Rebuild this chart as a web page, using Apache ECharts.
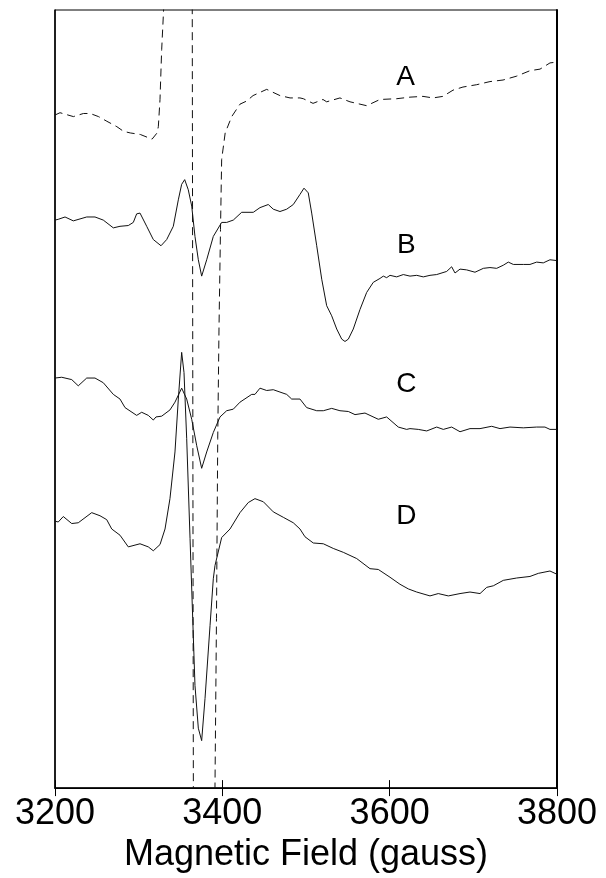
<!DOCTYPE html>
<html>
<head>
<meta charset="utf-8">
<script src="https://cdn.jsdelivr.net/npm/echarts@6/dist/echarts.min.js"></script>
<style>
  html, body { margin: 0; padding: 0; background: #fff; }
  #chart { width: 606px; height: 878px; }
</style>
</head>
<body>
<div id="chart"></div>
<script>
// EPR spectra A–D: field (gauss) and derivative intensity (arbitrary units, stacked offsets)
const fieldA = [3200, 3206, 3222, 3234, 3242, 3252, 3262, 3274, 3282, 3290, 3302, 3316, 3317.5, 3322, 3323.5, 3325.5, 3327.5, 3329.4, 3330.3,
  3332.7, 3343.4, 3355.4, 3364.0, 3365.4, 3373.3, 3382.9, 3390.0, 3391.2, 3393.0, 3394.5, 3396.0, 3397.8, 3399.2, 3403.4, 3411.2,
  3421.1, 3429.1, 3436.7, 3453.0, 3468.9, 3480.9, 3492.8, 3496.8, 3508.4, 3520.3, 3524.7, 3540.6, 3552.6, 3572.5, 3588.4, 3608.4,
  3624.3, 3639.8, 3651.8, 3663.7, 3675.7, 3687.6, 3704.0, 3719.9, 3735.5, 3751.8, 3767.7, 3779.7, 3791.6, 3799.6];
const intensityA = [86.5, 86.8, 86.3, 86.7, 86.7, 86.3, 85.7, 85.0, 84.4, 84.2, 84.0, 83.4, 83.2, 84.2, 85.0, 88.5, 94.9, 99.1, 101.3,
  108.7, 116.7, 111.5, 103.8, -2.6, -14.1, -11.5, -3.2, 0.0, 21.8, 44.9, 59.0, 71.8, 80.8, 84.2, 86.3,
  87.9, 88.3, 89.0, 89.8, 89.0, 88.7, 88.7, 88.6, 88.0, 88.5, 88.2, 88.7, 88.2, 87.7, 88.5, 88.6,
  88.8, 88.9, 88.7, 88.9, 89.7, 90.1, 90.4, 90.8, 91.0, 91.5, 92.2, 92.4, 93.2, 93.3];

const fieldB = [3200, 3203.9, 3212.0, 3221.9, 3237.9, 3247.8, 3257.7, 3269.7, 3277.7, 3287.6, 3293.6, 3297.6, 3301.6, 3309.6, 3317.5,
  3326.7, 3333.5, 3341.4, 3347.4, 3351.4, 3355.0, 3359.3, 3363.4, 3367.3, 3371.3, 3375.3, 3381.3, 3389.2, 3399.2, 3405.2, 3413.1,
  3423.1, 3437.0, 3445.0, 3454.9, 3460.9, 3468.9, 3476.9, 3484.8, 3492.8, 3497.6, 3502.7, 3506.8, 3512.8, 3518.8, 3524.7, 3530.7,
  3536.7, 3542.7, 3546.6, 3550.6, 3556.5, 3564.5, 3572.5, 3580.4, 3588.4, 3592.4, 3596.4, 3600.4, 3608.4, 3616.3, 3624.3, 3632.3,
  3640.2, 3648.2, 3656.2, 3668.1, 3674.1, 3678.1, 3684.1, 3692.0, 3702.0, 3712.0, 3719.9, 3727.9, 3735.8, 3741.8, 3747.8, 3759.8,
  3767.7, 3775.7, 3783.6, 3791.6, 3799.6];
const intensityB = [73.0, 73.1, 73.4, 72.9, 73.4, 73.4, 73.0, 72.0, 72.2, 72.3, 72.7, 73.8, 73.9, 72.2, 70.5,
  69.7, 70.5, 72.2, 75.6, 77.6, 78.2, 76.9, 74.8, 70.9, 67.9, 65.8, 67.9, 70.9, 72.7, 72.7, 73.0,
  74.0, 74.0, 74.6, 75.0, 74.4, 74.1, 74.4, 75.0, 76.3, 77.1, 76.5, 73.9, 69.7, 65.4, 62.0, 60.7,
  59.0, 57.7, 57.4, 57.7, 59.0, 61.5, 63.7, 65.0, 65.5, 65.8, 65.6, 65.9, 65.7, 66.0, 65.8, 65.9,
  65.7, 65.9, 66.0, 66.4, 67.0, 66.2, 66.7, 66.6, 66.3, 66.8, 66.9, 66.8, 67.2, 67.6, 67.3, 67.3,
  67.3, 67.6, 67.5, 67.9, 67.8];

const fieldC = [3200, 3208.0, 3220.0, 3227.8, 3237.9, 3247.8, 3257.7, 3269.7, 3277.7, 3283.7, 3297.6, 3303.6, 3311.5, 3317.5, 3320.7,
  3327.5, 3337.4, 3343.4, 3351.4, 3357.4, 3363.4, 3369.4, 3375.3, 3381.3, 3389.2, 3397.2, 3405.2, 3413.1, 3421.1, 3435.1, 3439.0,
  3445.0, 3453.0, 3460.9, 3468.9, 3476.9, 3482.9, 3492.8, 3500.8, 3512.8, 3520.7, 3530.7, 3540.6, 3550.6, 3558.6, 3570.5, 3586.4,
  3596.4, 3610.3, 3620.3, 3624.3, 3634.2, 3644.3, 3656.2, 3664.1, 3674.1, 3684.1, 3696.0, 3708.0, 3721.9, 3731.9, 3743.8, 3759.7,
  3775.7, 3785.6, 3791.6, 3799.6];
const intensityC = [52.7, 52.8, 52.5, 51.7, 52.7, 52.7, 52.1, 50.6, 50.0, 48.9, 47.9, 48.3, 47.9, 47.3, 47.7,
  47.8, 48.6, 49.6, 51.4, 50.0, 47.4, 44.0, 41.1, 43.2, 45.7, 47.7, 48.5, 48.7, 49.6, 50.6, 50.6,
  51.4, 51.1, 51.2, 50.9, 50.6, 50.0, 50.0, 48.9, 48.5, 48.5, 48.8, 48.5, 48.4, 48.0, 48.2, 47.4,
  47.7, 46.4, 46.1, 46.2, 46.1, 45.9, 46.4, 46.1, 46.4, 45.8, 46.2, 46.2, 46.5, 46.2, 46.4, 46.3,
  46.4, 46.4, 46.1, 46.1];

const fieldD = [3200, 3203.9, 3209.9, 3220.0, 3227.8, 3243.9, 3253.8, 3261.8, 3267.8, 3277.7, 3287.6, 3301.6, 3311.5, 3317.5, 3325.5,
  3331.5, 3337.4, 3343.4, 3347.4, 3351.4, 3354.2, 3357.4, 3361.4, 3364.6, 3367.3, 3371.3, 3375.3, 3379.3, 3385.3, 3389.2, 3391.2,
  3399.2, 3409.2, 3421.1, 3431.0, 3439.0, 3449.0, 3460.9, 3472.9, 3484.8, 3492.8, 3498.8, 3508.7, 3520.7, 3532.6, 3544.6, 3560.6,
  3576.5, 3586.4, 3600.4, 3612.3, 3622.3, 3632.3, 3648.2, 3658.1, 3670.1, 3684.1, 3696.0, 3708.0, 3716.0, 3723.9, 3735.8, 3751.8,
  3767.7, 3777.7, 3791.6, 3799.6];
const intensityD = [34.3, 34.2, 34.9, 34.0, 34.1, 35.4, 35.0, 34.5, 33.3, 32.5, 31.0, 31.4, 31.0, 30.5, 31.3,
  33.3, 37.2, 43.2, 50.0, 56.0, 53.4, 44.9, 32.1, 21.8, 13.2, 7.7, 6.1, 11.5, 20.9, 26.9, 28.6,
  32.2, 33.3, 35.4, 36.7, 37.2, 36.8, 35.5, 34.8, 34.1, 33.3, 32.3, 31.5, 31.4, 30.8, 30.3, 29.5,
  28.2, 28.1, 27.1, 26.2, 25.6, 25.2, 24.7, 25.0, 24.7, 25.0, 25.2, 25.0, 25.8, 26.0, 26.7, 27.0,
  27.2, 27.6, 27.9, 27.5];

// Trace letters and where they sit (field, intensity)
const traceNames = ['A', 'B', 'C', 'D'];
const labelField = [3619, 3620, 3620, 3620];
const labelIntensity = [91.3, 69.7, 51.9, 34.9];

const xTicks = [3200, 3400, 3600, 3800];
const xTitle = 'Magnetic Field (gauss)';

const zip = (xs, ys) => xs.map((x, i) => [x, ys[i]]);
const traces = [
  { data: zip(fieldA, intensityA), dashed: true },
  { data: zip(fieldB, intensityB), dashed: false },
  { data: zip(fieldC, intensityC), dashed: false },
  { data: zip(fieldD, intensityD), dashed: false }
];

const FONT = 'Liberation Sans, Arial, sans-serif';

const chart = echarts.init(document.getElementById('chart'), null, { renderer: 'canvas' });

chart.setOption({
  animation: false,
  backgroundColor: '#ffffff',
  grid: {
    left: 55, right: 49, top: 10, bottom: 88,
    show: true, borderColor: '#000', borderWidth: 1, backgroundColor: 'transparent'
  },
  xAxis: [
    {
      type: 'value', min: xTicks[0], max: xTicks[xTicks.length - 1], interval: 200,
      position: 'bottom',
      axisLine: { show: true, lineStyle: { color: '#000', width: 1.5 } },
      axisTick: { show: true, inside: true, length: 8, lineStyle: { color: '#000', width: 1 } },
      axisLabel: { show: true, color: '#000', fontSize: 36, fontFamily: FONT, margin: 8,
                   showMinLabel: true, showMaxLabel: true,
                   formatter: (v) => String(v) },
      splitLine: { show: false },
      name: xTitle, nameLocation: 'middle', nameGap: 48,
      nameTextStyle: { color: '#000', fontSize: 36, fontFamily: FONT }
    },
    {
      type: 'value', min: xTicks[0], max: xTicks[xTicks.length - 1], interval: 200,
      position: 'top',
      axisLine: { show: true, lineStyle: { color: '#000', width: 1 } },
      axisTick: { show: true, inside: true, length: 8, lineStyle: { color: '#000', width: 1 } },
      axisLabel: { show: false },
      splitLine: { show: false }
    }
  ],
  yAxis: [
    {
      type: 'value', min: 0, max: 100, position: 'left',
      axisLine: { show: true, lineStyle: { color: '#000', width: 1.5 } },
      axisTick: { show: false }, axisLabel: { show: false }, splitLine: { show: false }
    },
    {
      type: 'value', min: 0, max: 100, position: 'right',
      axisLine: { show: true, lineStyle: { color: '#000', width: 2 } },
      axisTick: { show: false }, axisLabel: { show: false }, splitLine: { show: false }
    }
  ],
  series: traces.map((t, i) => ({
    type: 'line',
    name: traceNames[i],
    xAxisIndex: 0, yAxisIndex: 0,
    data: t.data,
    showSymbol: false,
    symbol: 'none',
    clip: true,
    smooth: false,
    lineStyle: { color: '#111', width: 1, type: t.dashed ? [8, 5] : 'solid' },
    markPoint: {
      symbol: 'circle', symbolSize: 1,
      itemStyle: { color: 'rgba(0,0,0,0)' },
      label: { show: true, position: 'inside', formatter: traceNames[i],
               color: '#000', fontSize: 28, fontFamily: FONT },
      data: [{ coord: [labelField[i], labelIntensity[i]] }]
    }
  }))
});
</script>
</body>
</html>
